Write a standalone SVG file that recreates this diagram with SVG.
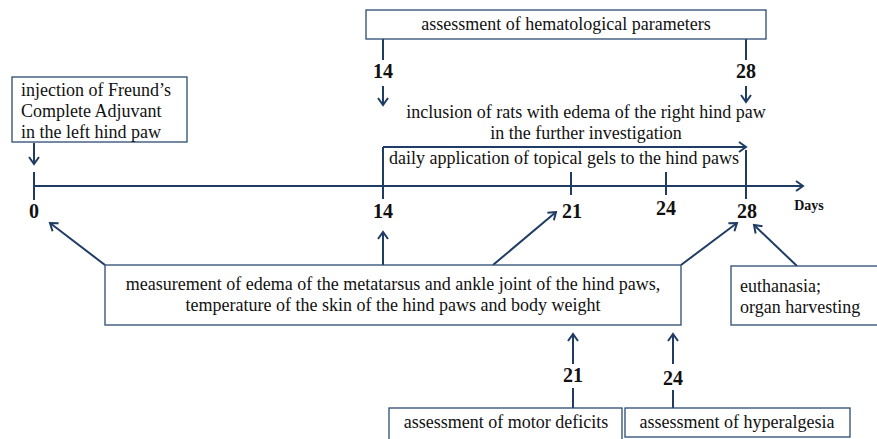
<svg xmlns="http://www.w3.org/2000/svg" width="877" height="439" viewBox="0 0 877 439">
<defs>
<marker id="ah" viewBox="0 0 12 12" refX="10" refY="6" markerWidth="12" markerHeight="12" markerUnits="userSpaceOnUse" orient="auto">
<polyline points="3,1 10,6 3,11" fill="none" stroke="#1f3d64" stroke-width="2"/>
</marker>
</defs>
<style>
.box{fill:#fff;stroke:#2c4a70;stroke-width:1.3}
.ln{stroke:#1f3d64;stroke-width:2;fill:none}
.ar{stroke:#1f3d64;stroke-width:2;fill:none;marker-end:url(#ah)}
text{font-family:'Liberation Serif','Times New Roman',serif;fill:#111}
.t{font-size:18px}
.n{font-size:20px;font-weight:bold;text-anchor:middle}
.c{text-anchor:middle}
</style>
<rect width="877" height="439" fill="#fff"/>
<g id="connectors">
<line class="ar" x1="34" y1="186" x2="803" y2="186"/>
<line class="ln" x1="34" y1="172" x2="34" y2="200"/>
<line class="ln" x1="383" y1="147" x2="383" y2="199"/>
<line class="ln" x1="571" y1="172" x2="571" y2="195"/>
<line class="ln" x1="666" y1="172" x2="666" y2="195"/>
<line class="ln" x1="746" y1="150" x2="746" y2="199"/>
<line class="ar" x1="383" y1="147" x2="746" y2="147"/>
<line class="ln" x1="383" y1="39" x2="383" y2="60"/>
<line class="ar" x1="383" y1="86" x2="383" y2="105"/>
<line class="ln" x1="746" y1="39" x2="746" y2="60"/>
<line class="ar" x1="746" y1="86" x2="746" y2="102"/>
<line class="ar" x1="34" y1="143" x2="34" y2="164"/>
<line class="ar" x1="105" y1="265" x2="50" y2="223"/>
<line class="ar" x1="383" y1="265" x2="383" y2="232"/>
<line class="ar" x1="493" y1="265" x2="556" y2="212"/>
<line class="ar" x1="681" y1="265" x2="737" y2="223"/>
<line class="ar" x1="797" y1="266" x2="754" y2="225"/>
<line class="ln" x1="573" y1="408" x2="573" y2="388"/>
<line class="ar" x1="573" y1="364" x2="573" y2="334"/>
<line class="ln" x1="673" y1="408" x2="673" y2="390"/>
<line class="ar" x1="673" y1="364" x2="673" y2="334"/>
</g>
<g id="axis-labels">
<text class="n" x="34" y="218">0</text>
<text class="n" x="383" y="218">14</text>
<text class="n" x="572" y="218">21</text>
<text class="n" x="666" y="215">24</text>
<text class="n" x="747" y="218">28</text>
<text x="809" y="210" font-size="14" font-weight="bold" text-anchor="middle">Days</text>
<text class="n" x="383" y="78">14</text>
<text class="n" x="746" y="78">28</text>
<text class="n" x="573" y="382">21</text>
<text class="n" x="673" y="385">24</text>
</g>
<g id="hematological">
<rect class="box" x="366" y="10" width="400" height="29"/>
<text class="t c" x="566" y="30">assessment of hematological parameters</text>
</g>
<g id="inclusion">
<text class="t c" x="586" y="118">inclusion of rats with edema of the right hind paw</text>
<text class="t c" x="586" y="139">in the further investigation</text>
</g>
<g id="daily">
<text class="t c" x="564" y="164">daily application of topical gels to the hind paws</text>
</g>
<g id="injection">
<rect class="box" x="12" y="77" width="175" height="65"/>
<text class="t" x="21" y="96">injection of Freund’s</text>
<text class="t" x="21" y="117">Complete Adjuvant</text>
<text class="t" x="21" y="138">in the left hind paw</text>
</g>
<g id="measurement">
<rect class="box" x="105" y="265" width="576" height="60"/>
<text class="t c" x="393" y="290">measurement of edema of the metatarsus and ankle joint of the hind paws,</text>
<text class="t c" x="393" y="311">temperature of the skin of the hind paws and body weight</text>
</g>
<g id="euthanasia">
<rect class="box" x="731" y="266" width="150" height="59"/>
<text class="t" x="740" y="292">euthanasia;</text>
<text class="t" x="740" y="313">organ harvesting</text>
</g>
<g id="motor">
<rect class="box" x="389" y="408" width="233" height="33"/>
<text class="t c" x="506" y="428">assessment of motor deficits</text>
</g>
<g id="hyperalgesia">
<rect class="box" x="625" y="408" width="225" height="29"/>
<text class="t c" x="737" y="428">assessment of hyperalgesia</text>
</g>
</svg>
